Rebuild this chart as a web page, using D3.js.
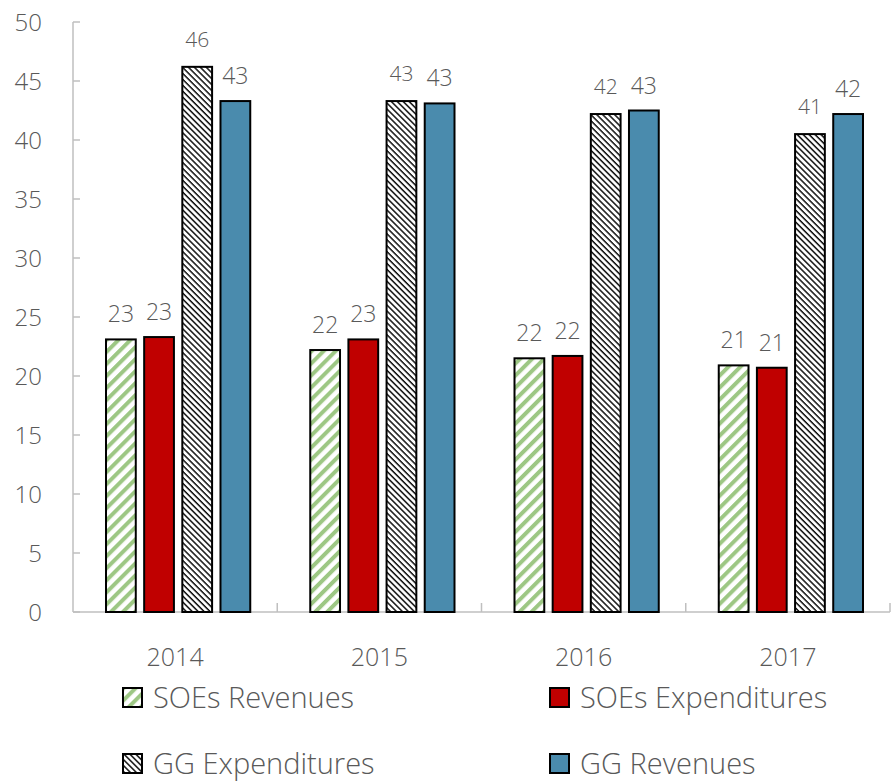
<!DOCTYPE html>
<html>
<head>
<meta charset="utf-8">
<script src="https://cdn.jsdelivr.net/npm/d3@7"></script>
<style>
  body { margin: 0; background: #fff; }
  text { font-family: "Open Sans", "Noto Sans", sans-serif; fill: #595959; }
</style>
</head>
<body>
<div id="chart"></div>
<script>
// data
var years = ["2014", "2015", "2016", "2017"];
var seriesNames = ["SOEs Revenues", "SOEs Expenditures", "GG Expenditures", "GG Revenues"];
var soeRevenues = [23.1, 22.2, 21.5, 20.9];
var soeExpenditures = [23.3, 23.1, 21.7, 20.7];
var ggExpenditures = [46.2, 43.3, 42.2, 40.5];
var ggRevenues = [43.3, 43.1, 42.5, 42.2];
var yTicks = [0, 5, 10, 15, 20, 25, 30, 35, 40, 45, 50];

var seriesValues = [soeRevenues, soeExpenditures, ggExpenditures, ggRevenues];
var fills = ["url(#greenStripe)", "#C00000", "url(#blackHatch)", "#4A8BAD"];
var labelSize = [23, 23, 21, 23];

var width = 891, height = 781;
var margin = { top: 22, right: 1, bottom: 169, left: 73 };

var svg = d3.select("#chart").append("svg")
    .attr("width", width)
    .attr("height", height);

// パターン定義
var defs = svg.append("defs");
var gp = defs.append("pattern")
    .attr("id", "greenStripe")
    .attr("patternUnits", "userSpaceOnUse")
    .attr("width", 8.5).attr("height", 8.5)
    .attr("patternTransform", "rotate(45)");
gp.append("rect").attr("width", 8.5).attr("height", 8.5).attr("fill", "#fff");
gp.append("rect").attr("width", 4).attr("height", 8.5).attr("fill", "#9DC784");

var bp = defs.append("pattern")
    .attr("id", "blackHatch")
    .attr("patternUnits", "userSpaceOnUse")
    .attr("width", 4.2).attr("height", 4.2)
    .attr("patternTransform", "rotate(45)");
bp.append("rect").attr("width", 4.2).attr("height", 4.2).attr("fill", "#fff");
bp.append("rect").attr("width", 4.2).attr("height", 1.5).attr("fill", "#111");

var g = svg.append("g").attr("transform", "translate(" + margin.left + "," + margin.top + ")");
var w = width - margin.left - margin.right;
var h = height - margin.top - margin.bottom;

var x0 = d3.scaleBand().domain(years).range([0, w]).paddingInner(0).paddingOuter(0);
var x1 = d3.scaleBand().domain(d3.range(4)).range([33, x0.bandwidth() - 27]).paddingInner(0.22);
var y = d3.scaleLinear().domain([0, 50]).range([h, 0]);

// y軸
g.append("line")
    .attr("x1", 0).attr("x2", 0).attr("y1", 0).attr("y2", h)
    .attr("stroke", "#bfbfbf").attr("stroke-width", 1.5);
g.selectAll(".ytick").data(yTicks).enter().append("line")
    .attr("x1", 0).attr("x2", 7)
    .attr("y1", function(d) { return y(d); })
    .attr("y2", function(d) { return y(d); })
    .attr("stroke", "#bfbfbf").attr("stroke-width", 1.5);
g.selectAll(".ylab").data(yTicks).enter().append("text")
    .attr("x", -31)
    .attr("y", function(d) { return y(d); })
    .attr("dy", "0.36em")
    .attr("text-anchor", "end")
    .style("font-size", "24px")
    .style("font-weight", 300)
    .text(function(d) { return d; });

// x軸
g.append("line")
    .attr("x1", 0).attr("x2", w).attr("y1", h).attr("y2", h)
    .attr("stroke", "#bfbfbf").attr("stroke-width", 1.5);
g.selectAll(".xtick").data(years).enter().append("line")
    .attr("x1", function(d) { return x0(d) + x0.bandwidth(); })
    .attr("x2", function(d) { return x0(d) + x0.bandwidth(); })
    .attr("y1", h).attr("y2", h - 9)
    .attr("stroke", "#bfbfbf").attr("stroke-width", 1.5);
g.selectAll(".xlab").data(years).enter().append("text")
    .attr("x", function(d) { return x0(d) + x0.bandwidth() / 2; })
    .attr("y", h + 54)
    .attr("text-anchor", "middle")
    .style("font-size", "25px")
    .style("font-weight", 300)
    .text(function(d) { return d; });

// 棒グラフ
var groups = g.selectAll(".grp").data(years).enter().append("g")
    .attr("transform", function(d) { return "translate(" + x0(d) + ",0)"; });

groups.each(function(yr, yi) {
    var grp = d3.select(this);
    seriesValues.forEach(function(vals, si) {
        var v = vals[yi];
        grp.append("rect")
            .attr("x", x1(si))
            .attr("y", y(v))
            .attr("width", x1.bandwidth())
            .attr("height", h - y(v))
            .attr("fill", fills[si])
            .attr("stroke", "#000")
            .attr("stroke-width", 2);
        grp.append("text")
            .attr("x", x1(si) + x1.bandwidth() / 2)
            .attr("y", y(v) - (si === 2 ? 20 : 17))
            .attr("text-anchor", "middle")
            .style("font-size", labelSize[si] + "px")
            .style("font-weight", 300)
            .text(Math.round(v));
    });
});

// 凡例
var legendPos = [[123, 698], [550, 698], [123, 764], [550, 764]];
var legend = svg.selectAll(".legend").data(seriesNames).enter().append("g")
    .attr("transform", function(d, i) { return "translate(" + legendPos[i][0] + "," + legendPos[i][1] + ")"; });
legend.append("rect")
    .attr("x", 0).attr("y", -10)
    .attr("width", 19).attr("height", 19)
    .attr("fill", function(d, i) { return fills[i]; })
    .attr("stroke", "#000").attr("stroke-width", 2);
legend.append("text")
    .attr("x", 30).attr("y", 0)
    .attr("dy", "0.36em")
    .style("font-size", "29px")
    .style("font-weight", 300)
    .text(function(d) { return d; });
</script>
</body>
</html>
